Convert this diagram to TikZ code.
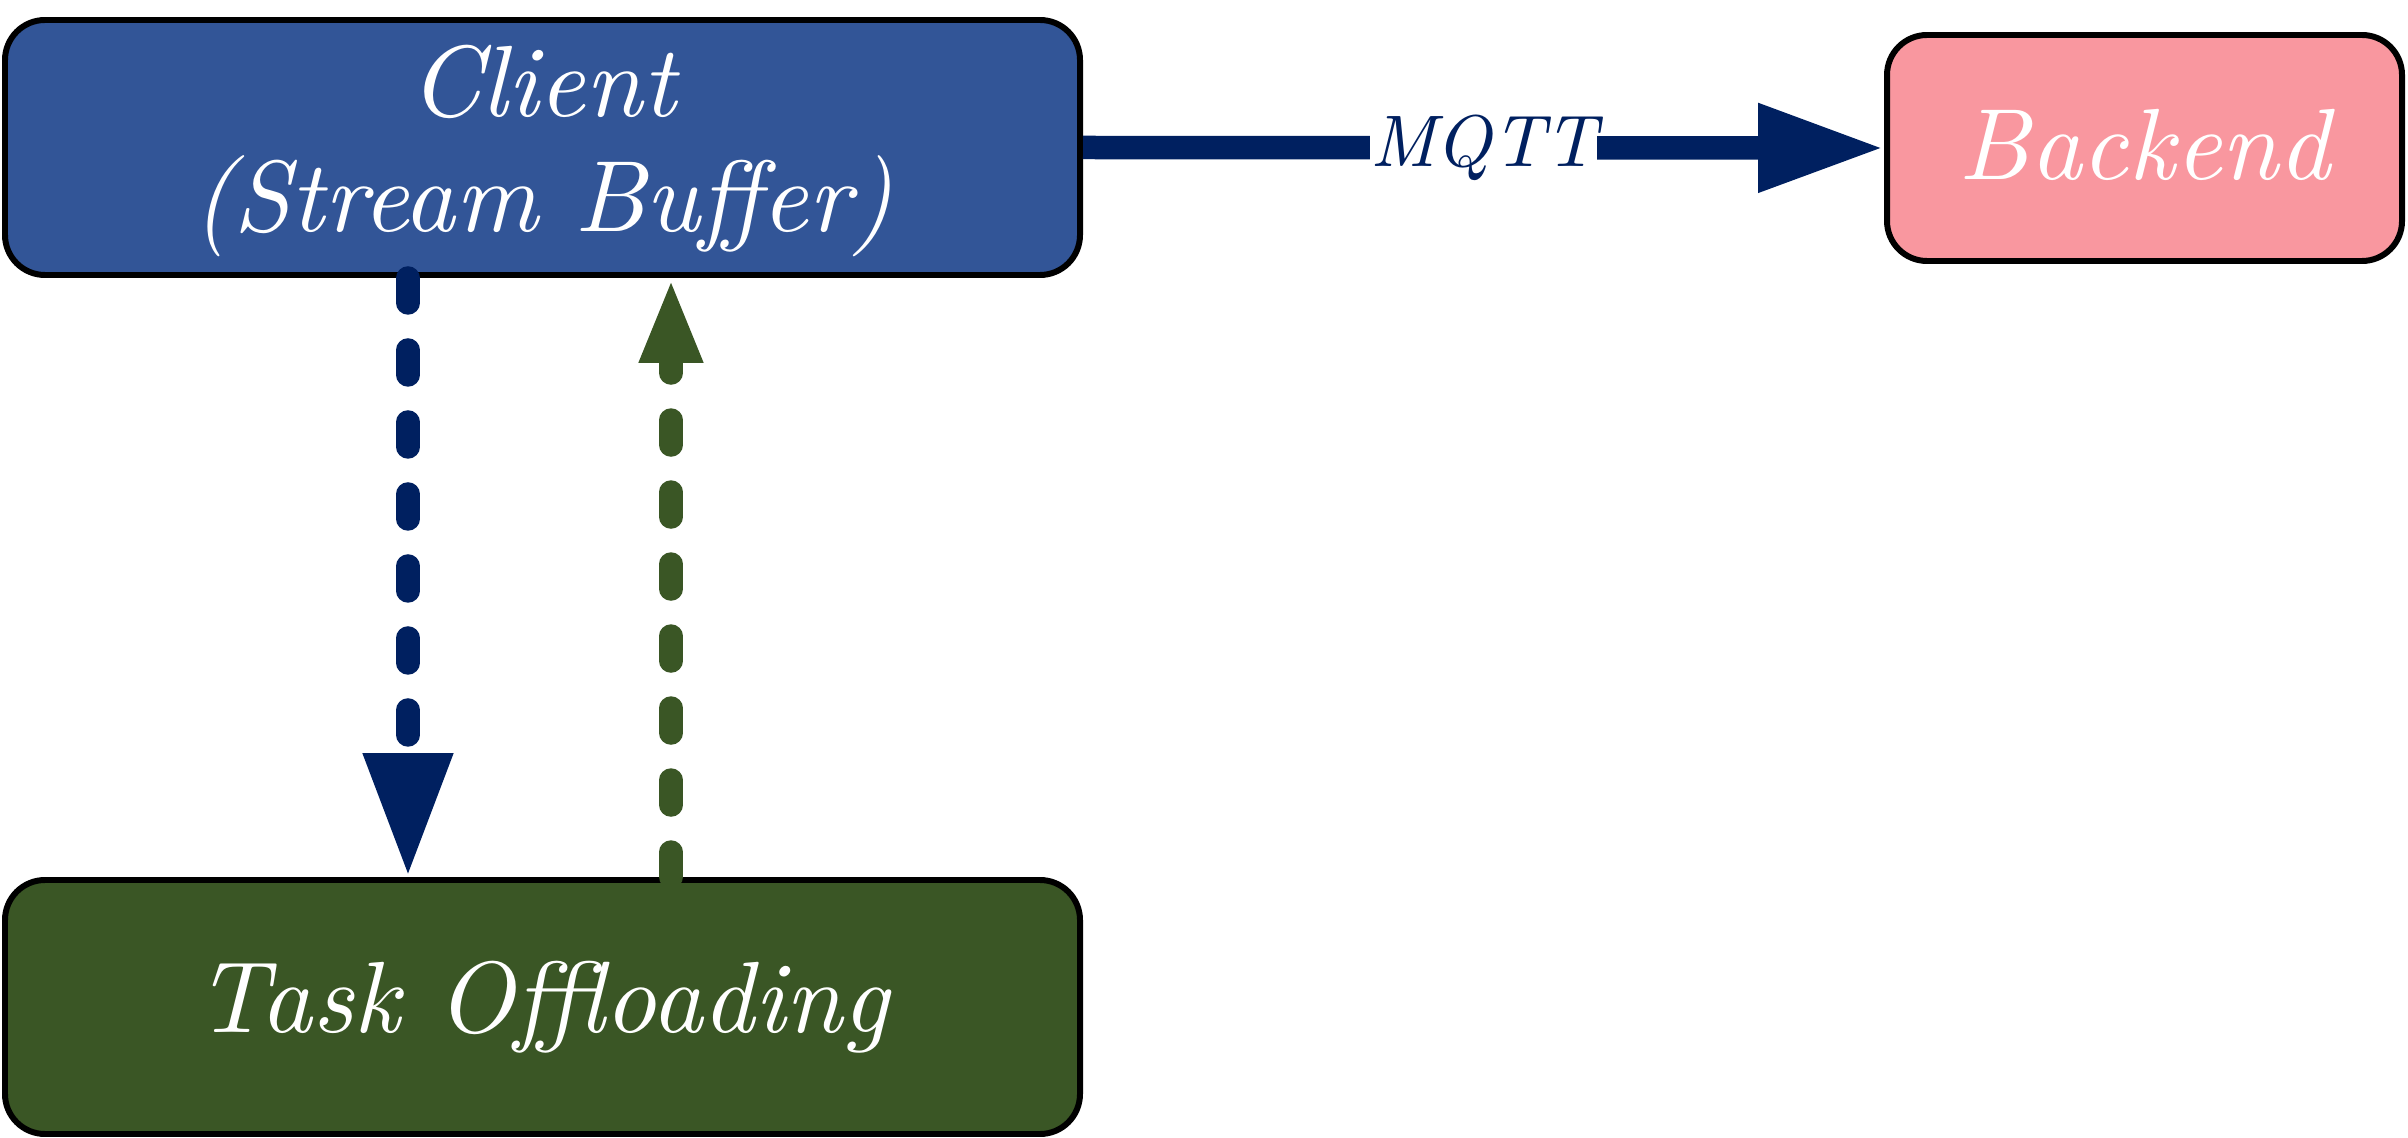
\documentclass[tikz,border=0pt]{standalone}
\usepackage{fontspec}
\newfontfamily\lmtenit{lmroman10-italic}[Extension=.otf]
\usetikzlibrary{arrows.meta}
\definecolor{clientblue}{HTML}{325597}
\definecolor{taskgreen}{HTML}{3A5625}
\definecolor{backpink}{HTML}{F9979F}
\definecolor{navy}{HTML}{002060}
\tikzset{
  boxnode/.style={draw=black, line width=1.7pt, rounded corners=0.4cm, text=white,
    align=center, font=\lmtenit\fontsize{28.8}{32.7}\selectfont},
  dashconn/.style={line width=0.235cm, line cap=round, dash pattern=on 0.25cm off 0.47cm},
}
\begin{document}
\begin{tikzpicture}
\useasboundingbox (0,0) rectangle (24.08,-11.38);
\node[boxnode, fill=clientblue, minimum width=10.75cm, minimum height=2.55cm] (client) at (5.425,-1.475)
  {\rule{0pt}{22.3pt}Client\\(Stream Buffer)};
\node[boxnode, fill=backpink, minimum width=5.15cm, minimum height=2.26cm] (backend) at (21.445,-1.48)
  {\rule[-2.3pt]{0pt}{2.3pt}Backend};
\node[boxnode, fill=taskgreen, minimum width=10.75cm, minimum height=2.54cm] (task) at (5.425,-10.07)
  {Task Offloading};
\draw[navy, line width=0.235cm, -{Triangle[length=1.26cm,width=0.83cm]}] (client.east) -- (backend.west)
  node[midway, fill=white, inner xsep=0pt, inner ysep=2pt, text=navy, font=\lmtenit\fontsize{20.8}{25}\selectfont] (mqtt) {MQTT};
\draw[navy, dashconn, -{Triangle[length=1.24cm,width=0.84cm]}] ([xshift=-1.345cm]client.south) -- ([xshift=-1.345cm]task.north);
\draw[taskgreen, dashconn, -{Triangle[length=0.85cm,width=0.58cm]}] ([xshift=1.285cm]task.north) -- ([xshift=1.285cm]client.south);
\end{tikzpicture}
\end{document}
